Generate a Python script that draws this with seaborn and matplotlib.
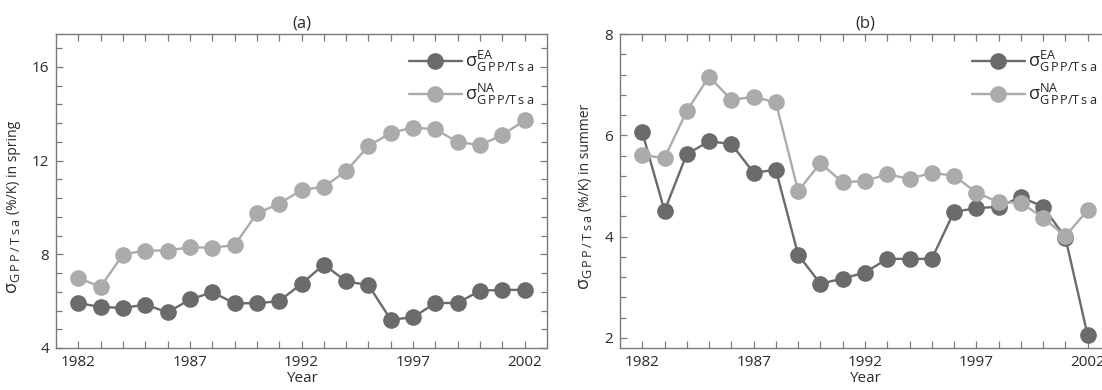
import numpy as np
import pandas as pd
import matplotlib
matplotlib.use("Agg")
import matplotlib.pyplot as plt
from matplotlib.ticker import MultipleLocator, FixedLocator, FuncFormatter
import seaborn as sns

years = list(range(1982, 2003))

spring_ea = [5.92, 5.75, 5.71, 5.85, 5.52, 6.07, 6.38, 5.91, 5.91, 6.00, 6.74,
             7.56, 6.85, 6.68, 5.21, 5.31, 5.92, 5.92, 6.45, 6.48, 6.48]
spring_na = [6.99, 6.61, 7.99, 8.16, 8.16, 8.30, 8.28, 8.39, 9.74, 10.16, 10.74,
             10.88, 11.55, 12.62, 13.18, 13.41, 13.33, 12.79, 12.66, 13.09, 13.72]

summer_ea = [6.06, 4.51, 5.63, 5.88, 5.83, 5.26, 5.32, 3.64, 3.07, 3.17, 3.29,
             3.56, 3.56, 3.56, 4.49, 4.56, 4.59, 4.78, 4.59, 3.98, 2.05]
summer_na = [5.61, 5.55, 6.48, 7.16, 6.70, 6.76, 6.65, 4.90, 5.45, 5.07, 5.10,
             5.23, 5.14, 5.26, 5.20, 4.87, 4.68, 4.67, 4.37, 4.01, 4.52]

label_ea = r"$\mathrm{\sigma}^{\mathrm{EA}}_{\mathrm{G\,P\,P/T\,s\;a}}$"
label_na = r"$\mathrm{\sigma}^{\mathrm{NA}}_{\mathrm{G\,P\,P/T\,s\;a}}$"
ysym = r"$\mathrm{\sigma}_{\mathrm{G\:P\:P\:/\:T\:s\:a}}$"
ytext_spring = "(%/K) in spring"
ytext_summer = "(%/K) in summer"

sns.set_theme(style="ticks")
plt.rcParams["font.family"] = ["Open Sans", "DejaVu Sans"]
plt.rcParams["mathtext.fontset"] = "custom"
plt.rcParams["mathtext.rm"] = "Open Sans"
plt.rcParams["mathtext.it"] = "Open Sans:italic"
plt.rcParams["mathtext.bf"] = "Open Sans:bold"

TEXT = "#2b2b2b"
SPINE = "#7a7a7a"
C_EA = "#6b6b6b"
C_NA = "#ababab"

fig = plt.figure(figsize=(11.02, 3.90), dpi=100)
ax_a = fig.add_axes([0.0508, 0.1077, 0.4456, 0.8051])
ax_b = fig.add_axes([0.5626, 0.1077, 0.4446, 0.8051])


def draw(ax, ea, na, ylim, ymajor, yminor, title):
    df = pd.DataFrame({"Year": years * 2,
                       "value": ea + na,
                       "series": [label_ea] * len(years) + [label_na] * len(years)})
    sns.lineplot(data=df, x="Year", y="value", hue="series",
                 palette={label_ea: C_EA, label_na: C_NA},
                 marker="o", markersize=12, markeredgewidth=0,
                 linewidth=1.7, ax=ax, legend=True)
    ax.set_xlim(1981, 2003)
    ax.set_ylim(*ylim)
    ax.xaxis.set_major_locator(FixedLocator(years))
    ax.xaxis.set_major_formatter(FuncFormatter(
        lambda v, p: f"{int(round(v))}" if int(round(v)) % 5 == 2 else ""))
    ax.yaxis.set_major_locator(MultipleLocator(ymajor))
    ax.yaxis.set_minor_locator(MultipleLocator(yminor))
    ax.tick_params(axis="both", which="both", direction="in",
                   top=True, right=True, color=SPINE, width=0.9,
                   labelsize=11, labelcolor=TEXT, pad=5)
    ax.tick_params(axis="both", which="major", length=5)
    ax.tick_params(axis="y", which="minor", length=4)
    for s in ax.spines.values():
        s.set_color(SPINE)
        s.set_linewidth(1.0)
    ax.set_xlabel("Year", fontsize=11, color=TEXT, labelpad=1)
    ax.set_ylabel("")
    ax.set_title(title, fontsize=12, color=TEXT, pad=5)
    handles, labels = ax.get_legend_handles_labels()
    ax.legend(handles, labels, loc="upper right", bbox_to_anchor=(0.99, 0.975),
              frameon=False, fontsize=13, handlelength=2.9, handletextpad=0.2,
              labelspacing=0.45, borderaxespad=0.0)


def ylabel_pair(ax, text, x_frac, shift_px):
    """Rotated y label built from a symbol part and a plain-text part."""
    t1 = ax.text(x_frac, 0, ysym, transform=ax.transAxes, rotation=90,
                 rotation_mode="anchor", ha="left", va="baseline",
                 fontsize=13, color=TEXT)
    t2 = ax.text(x_frac, 0, text, transform=ax.transAxes, rotation=90,
                 rotation_mode="anchor", ha="left", va="baseline",
                 fontsize=10, color=TEXT)
    fig.canvas.draw()
    r = fig.canvas.get_renderer()
    h1 = t1.get_window_extent(r).height
    h2 = t2.get_window_extent(r).height
    gap = 4.0
    bb = ax.get_window_extent(r)
    center = bb.y0 + bb.height / 2 - shift_px
    start = center - (h1 + gap + h2) / 2
    t1.set_y((start - bb.y0) / bb.height)
    t2.set_y((start + h1 + gap - bb.y0) / bb.height)


draw(ax_a, spring_ea, spring_na, (4, 17.4), 4, 0.8, "(a)")
draw(ax_b, summer_ea, summer_na, (1.8, 8), 2, 0.4, "(b)")
ylabel_pair(ax_a, ytext_spring, -0.079, 16)
ylabel_pair(ax_b, ytext_summer, -0.063, 6)

fig.savefig("out.png", dpi=100)
